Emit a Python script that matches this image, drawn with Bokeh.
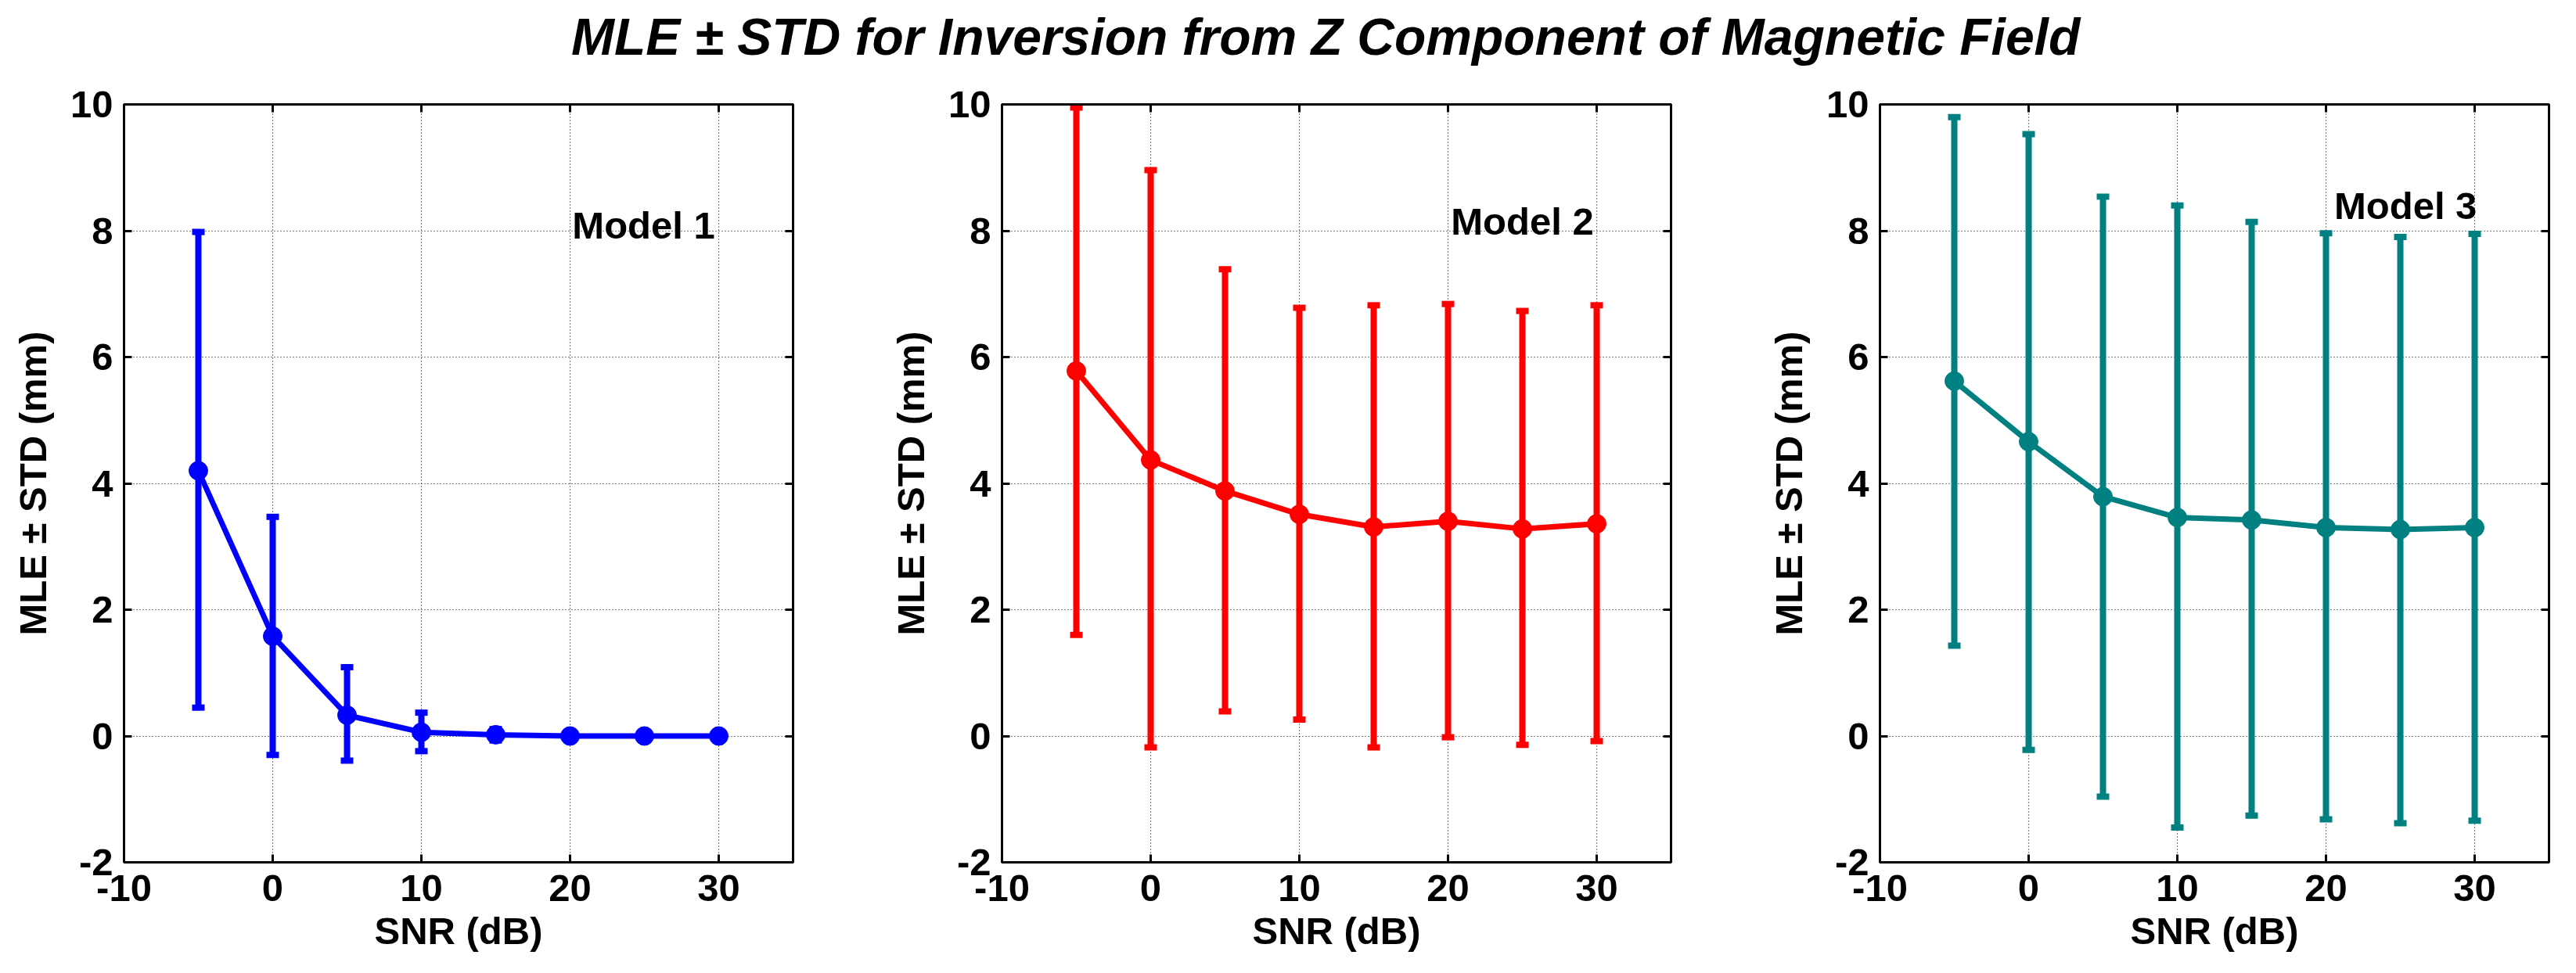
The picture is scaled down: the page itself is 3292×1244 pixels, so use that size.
from bokeh.plotting import figure
from bokeh.models import Div, LinearAxis, FixedTicker, Range1d, ColumnDataSource
from bokeh.layouts import column, row
from bokeh.embed import file_html
from bokeh.resources import INLINE
from bokeh.core.properties import value

# ---------------- data ----------------
snr = [-5, 0, 5, 10, 15, 20, 25, 30]

m1_mean = [4.20, 1.58, 0.33, 0.06, 0.02, 0.00, 0.00, 0.00]
m1_upper = [7.98, 3.47, 1.09, 0.37, 0.11, 0.00, 0.00, 0.00]
m1_lower = [0.45, -0.30, -0.39, -0.24, -0.07, 0.00, 0.00, 0.00]

m2_mean = [5.78, 4.37, 3.88, 3.51, 3.31, 3.40, 3.28, 3.36]
m2_upper = [9.95, 8.96, 7.39, 6.78, 6.82, 6.84, 6.73, 6.82]
m2_lower = [1.60, -0.18, 0.39, 0.26, -0.18, -0.02, -0.14, -0.08]

m3_mean = [5.62, 4.66, 3.79, 3.46, 3.42, 3.30, 3.27, 3.30]
m3_upper = [9.80, 9.53, 8.54, 8.40, 8.14, 7.96, 7.90, 7.95]
m3_lower = [1.43, -0.22, -0.96, -1.45, -1.26, -1.32, -1.38, -1.34]

model_names = ["Model 1", "Model 2", "Model 3"]
x_ticks = [-10, 0, 10, 20, 30]
y_ticks = [-2, 0, 2, 4, 6, 8, 10]
x_tick_labels = {-10: "-10", 0: "0", 10: "10", 20: "20", 30: "30"}
y_tick_labels = {-2: "-2", 0: "0", 2: "2", 4: "4", 6: "6", 8: "8", 10: "10"}

title_text = "MLE \u00b1 STD for Inversion from Z Component of Magnetic Field"
x_label = "SNR (dB)"
y_label = "MLE \u00b1 STD (mm)"

# ---------------- style ----------------
FONT = "Liberation Sans"
FS = "49px"
colors = ["#0000FF", "#FF0000", "#008080"]
label_pos = [(20.15, 8.09), (20.2, 8.15), (20.55, 8.40)]
right_borders = [109, 109, 19]


def style_axis(ax):
    ax.axis_line_width = 3
    ax.axis_line_color = "black"
    ax.major_tick_in = 10
    ax.major_tick_out = 0
    ax.major_tick_line_width = 3
    ax.major_tick_line_color = "black"
    ax.minor_tick_line_color = None
    ax.major_label_text_font = FONT
    ax.major_label_text_font_style = "bold"
    ax.major_label_text_color = "black"
    ax.axis_label_text_font = FONT
    ax.axis_label_text_font_style = "bold"
    ax.axis_label_text_font_size = FS
    ax.axis_label_text_color = "black"


def make_panel(mean, upper, lower, color, name, lpos, rb):
    p = figure(frame_width=855, frame_height=969,
               min_border_left=158, min_border_right=rb,
               min_border_top=35, min_border_bottom=130,
               x_range=Range1d(-10, 35), y_range=Range1d(-2, 10),
               output_backend="svg", toolbar_location=None,
               background_fill_color="white", border_fill_color="white")
    p.outline_line_color = "black"
    p.outline_line_width = 3

    xb = p.xaxis[0]
    yl = p.yaxis[0]
    xb.ticker = FixedTicker(ticks=x_ticks)
    xb.major_label_overrides = x_tick_labels
    xb.major_label_standoff = 16
    xb.axis_label = x_label
    xb.axis_label_standoff = 8
    xb.major_label_text_font_size = FS
    yl.ticker = FixedTicker(ticks=y_ticks)
    yl.major_label_overrides = y_tick_labels
    yl.major_label_standoff = 14
    yl.axis_label = y_label
    yl.axis_label_standoff = 18
    yl.major_label_text_font_size = FS

    top = LinearAxis(ticker=FixedTicker(ticks=x_ticks))
    right = LinearAxis(ticker=FixedTicker(ticks=y_ticks))
    for ax in (top, right):
        ax.major_label_text_font_size = "1px"
        ax.major_label_text_alpha = 0
        ax.major_label_standoff = 0
    p.add_layout(top, "above")
    p.add_layout(right, "right")

    for ax in (xb, yl, top, right):
        style_axis(ax)

    for g in (p.xgrid[0], p.ygrid[0]):
        g.grid_line_color = "black"
        g.grid_line_width = 1.2
        g.grid_line_dash = "1 3"
    p.xgrid[0].ticker = FixedTicker(ticks=x_ticks)
    p.ygrid[0].ticker = FixedTicker(ticks=y_ticks)

    src = ColumnDataSource(dict(x=snr, m=mean, hi=upper, lo=lower))
    p.segment(x0="x", y0="lo", x1="x", y1="hi", source=src,
              line_color=color, line_width=8)
    p.rect(x="x", y="hi", width=16, height=8, width_units="screen",
           height_units="screen", source=src, fill_color=color,
           line_color=None)
    p.rect(x="x", y="lo", width=16, height=8, width_units="screen",
           height_units="screen", source=src, fill_color=color,
           line_color=None)
    p.line(x="x", y="m", source=src, line_color=color, line_width=7)
    p.scatter(x="x", y="m", source=src, size=24, marker="circle",
              fill_color=color, line_color=color)

    p.text(x=[lpos[0]], y=[lpos[1]], text=[name],
           text_font=value(FONT), text_font_size=FS,
           text_font_style="bold", text_color="black",
           text_align="left", text_baseline="alphabetic")
    return p


panels = [
    make_panel(m1_mean, m1_upper, m1_lower, colors[0], model_names[0], label_pos[0], right_borders[0]),
    make_panel(m2_mean, m2_upper, m2_lower, colors[1], model_names[1], label_pos[1], right_borders[1]),
    make_panel(m3_mean, m3_upper, m3_lower, colors[2], model_names[2], label_pos[2], right_borders[2]),
]

title = Div(
    text=('<div style="position:relative; left:725px; top:9px; margin:0; '
          'font-family:\'Liberation Sans\'; font-size:66px; font-weight:bold; '
          'font-style:italic; line-height:66px; white-space:nowrap; color:black;">'
          + title_text + '</div>'),
    width=3276, height=88)

layout = column(title, row(*panels, spacing=0), spacing=0)

open("out.html", "w").write(file_html(layout, INLINE))
